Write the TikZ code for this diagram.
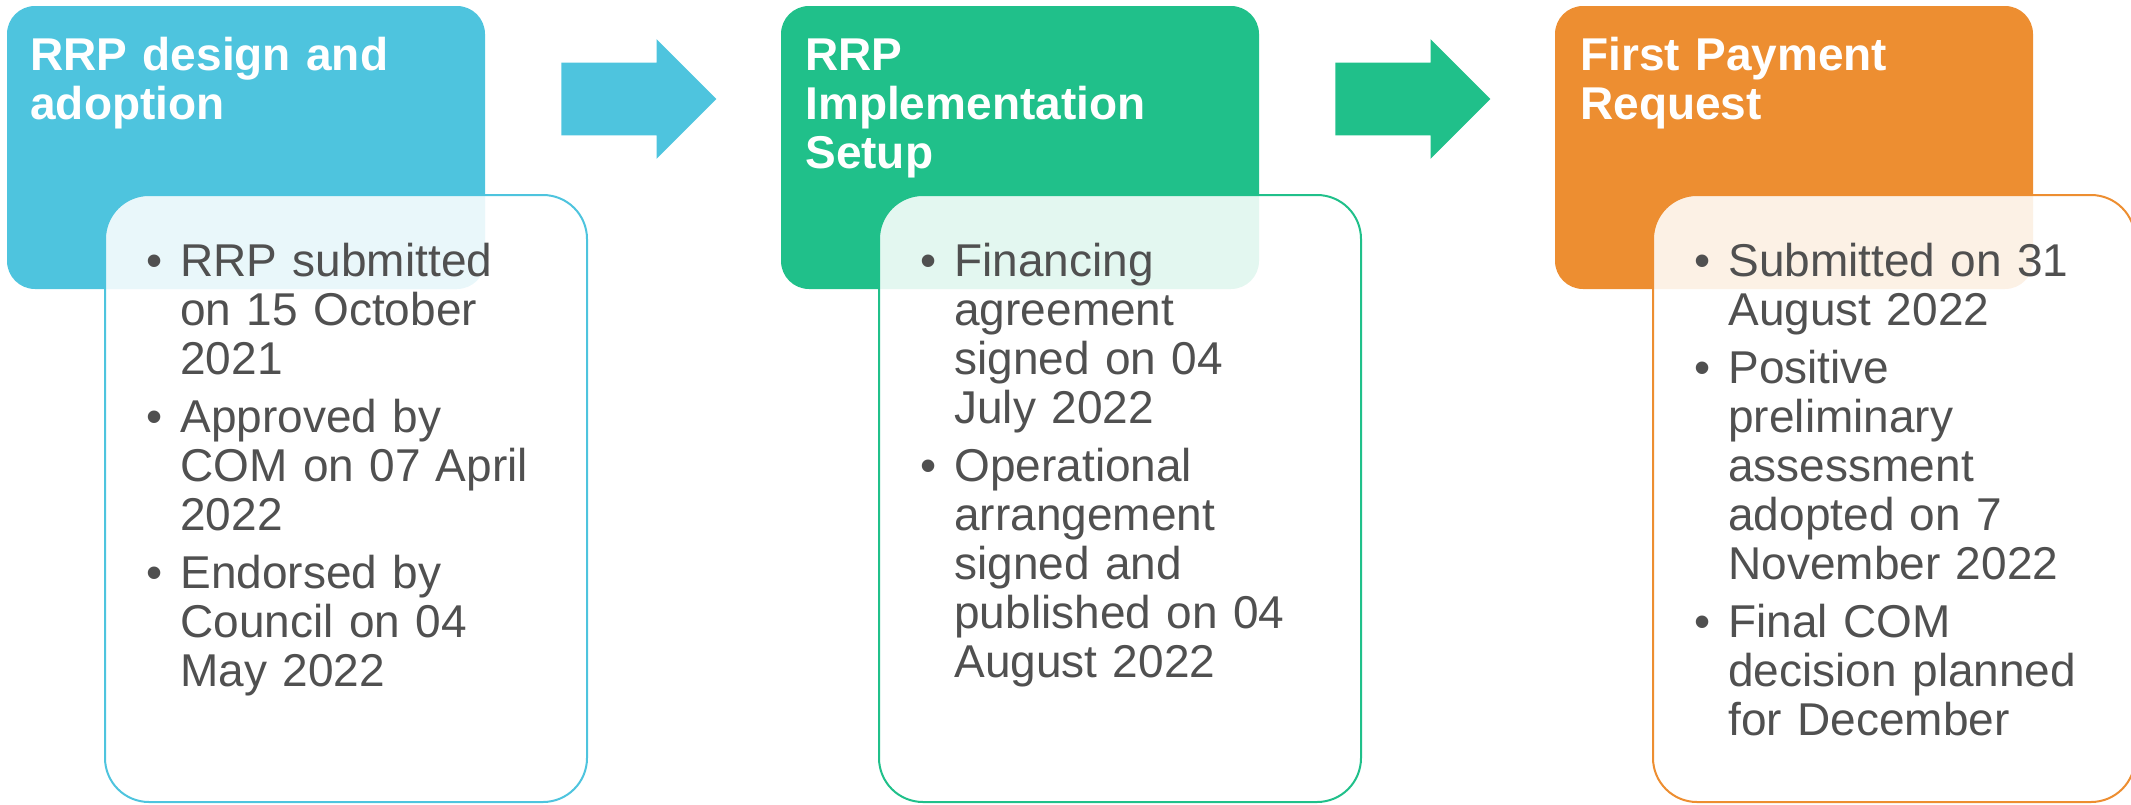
\documentclass[tikz,border=0pt]{standalone}
\usepackage{fontspec}
\setmainfont{Liberation Sans}
\usetikzlibrary{shapes.arrows}
\definecolor{stageblue}{RGB}{78,196,222}
\definecolor{stagegreen}{RGB}{32,192,138}
\definecolor{stageorange}{RGB}{237,142,49}
\definecolor{bodygray}{RGB}{80,80,80}
\newcommand{\stagefont}{\fontsize{23pt}{24.5pt}\selectfont}
\newcommand{\bul}[1]{\setlength{\parskip}{4.5pt}\hangindent=17pt\hangafter=1\noindent\makebox[17pt][l]{\textbullet}#1\par}

\begin{document}
\begin{tikzpicture}[x=0.5pt, y=-0.5pt,
  headbox/.style={rounded corners=14pt, minimum width=239pt, minimum height=141.5pt, inner sep=0pt},
  detailbox/.style={draw=#1, fill=white, fill opacity=0.88, line width=1pt, rounded corners=22pt, minimum width=241pt, minimum height=303.5pt, inner sep=0pt},
  headtext/.style={anchor=base west, text width=225pt, align=left, inner sep=0pt, text=white, font=\stagefont\bfseries},
  detailtext/.style={anchor=base west, text width=215pt, align=left, inner sep=0pt, text=bodygray, font=\stagefont},
  flowarrow/.style={single arrow, anchor=tail, minimum height=77.5pt, minimum width=59.5pt, single arrow head extend=11.75pt, inner xsep=0pt, inner ysep=18pt}]
\useasboundingbox (0,0) rectangle (2131,804);

\node[headbox, fill=stageblue] (head1) at (246,147.5) {};
\node[headbox, fill=stagegreen] (head2) at (1020,147.5) {};
\node[headbox, fill=stageorange] (head3) at (1794,147.5) {};

\node[detailbox=stageblue] (box1) at (346,498.5) {};
\node[detailbox=stagegreen] (box2) at (1120,498.5) {};
\node[detailbox=stageorange] (box3) at (1894,498.5) {};

\node[headtext] (title1) at (30,70) {RRP design and\\adoption};
\node[headtext] (title2) at (805,70) {RRP\\Implementation\\Setup};
\node[headtext] (title3) at (1580,70) {First Payment\\Request};

\node[detailtext] (list1) at (146,276) {\bul{RRP submitted\newline on 15 October\newline 2021}\bul{Approved by\newline COM on 07 April\newline 2022}\bul{Endorsed by\newline Council on 04\newline May 2022}};
\node[detailtext] (list2) at (920,276) {\bul{Financing\newline agreement\newline signed on 04\newline July 2022}\bul{Operational\newline arrangement\newline signed and\newline published on 04\newline August 2022}};
\node[detailtext] (list3) at (1694,276) {\bul{Submitted on 31\newline August 2022}\bul{Positive\newline preliminary\newline assessment\newline adopted on 7\newline November 2022}\bul{Final COM\newline decision planned\newline for December}};

\node[flowarrow, fill=stageblue] (arr1) at (561,99) {};
\node[flowarrow, fill=stagegreen] (arr2) at (1335,99) {};
\end{tikzpicture}
\end{document}
